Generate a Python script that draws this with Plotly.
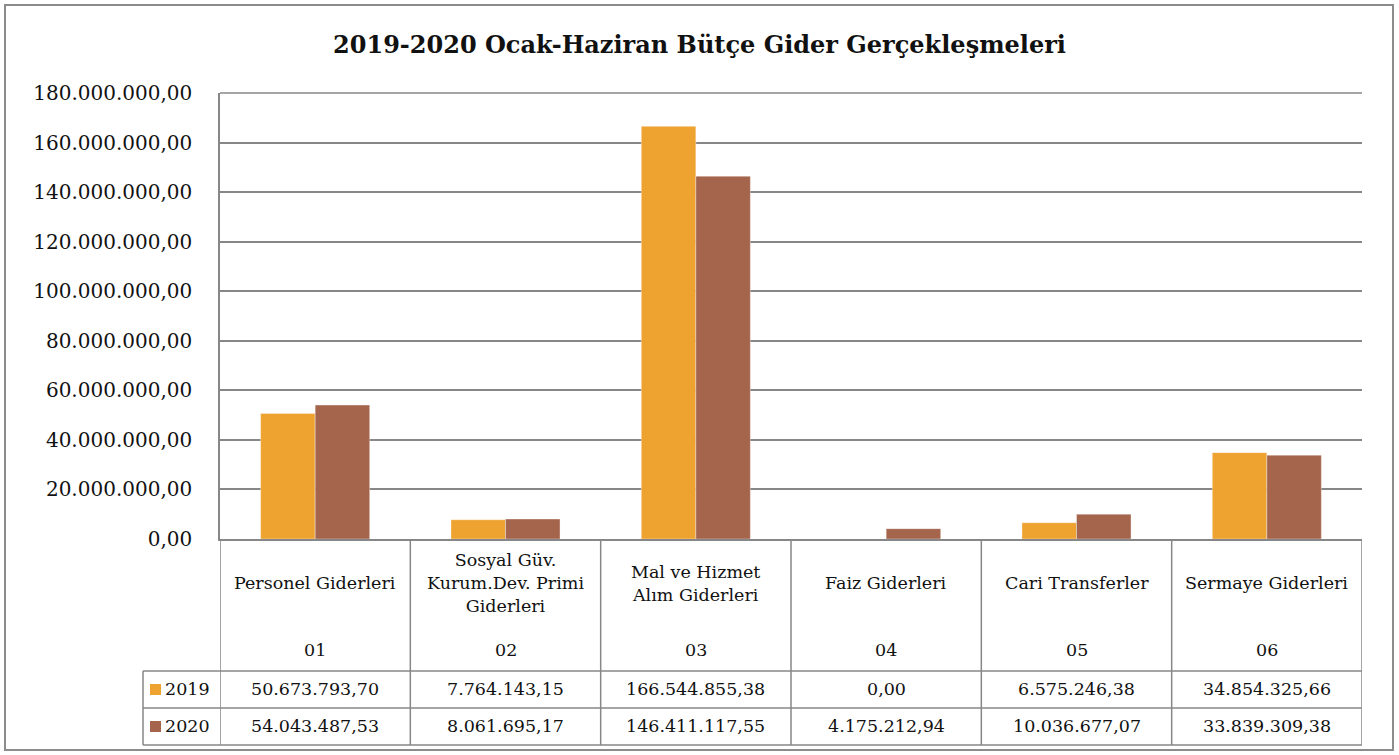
import plotly.graph_objects as go

categories = ["Personel Giderleri", "Sosyal Güv.<br>Kurum.Dev. Primi<br>Giderleri",
              "Mal ve Hizmet<br>Alım Giderleri", "Faiz Giderleri", "Cari Transferler",
              "Sermaye Giderleri"]
codes = ["01", "02", "03", "04", "05", "06"]
series_names = ["2019", "2020"]
values_2019 = [50673793.70, 7764143.15, 166544855.38, 0.00, 6575246.38, 34854325.66]
values_2020 = [54043487.53, 8061695.17, 146411117.55, 4175212.94, 10036677.07, 33839309.38]
colors = ["#EEA22F", "#A5654C"]

W, H = 1399, 755
L, R, T, B = 220, 1362, 93, 539
FONT = "DejaVu Serif"
GRID = "#878787"


def py(p):
    return (B - p) / (B - T)


def px(p):
    return (p - L) / (R - L)


def fmt(v):
    s = f"{v:,.2f}"
    return s.replace(",", "X").replace(".", ",").replace("X", ".")


idx = list(range(len(categories)))
fig = go.Figure()
for name, vals, col in zip(series_names, [values_2019, values_2020], colors):
    fig.add_trace(go.Bar(x=idx, y=vals, name=name,
                         marker=dict(color=col, line=dict(width=0.6, color="rgba(255,255,255,0.6)")),
                         showlegend=False))

shapes = []
ann = []
# outer border
shapes.append(dict(type="rect", xref="paper", yref="paper", x0=px(5), x1=px(1393), y0=py(750), y1=py(5),
                   line=dict(color="#8c8c8c", width=2)))
# table vertical lines at category boundaries
for i in range(len(categories) + 1):
    shapes.append(dict(type="line", xref="x", yref="paper", x0=i - 0.5, x1=i - 0.5, y0=py(745), y1=py(539),
                       line=dict(color=GRID, width=1.5)))
# legend column left line
shapes.append(dict(type="line", xref="paper", yref="paper", x0=px(143), x1=px(143), y0=py(745), y1=py(671),
                   line=dict(color=GRID, width=1.5)))
for yy in [671, 708, 745]:
    shapes.append(dict(type="line", xref="paper", yref="paper", x0=px(143), x1=1, y0=py(yy), y1=py(yy),
                       line=dict(color=GRID, width=1.5)))
# top gridline
shapes.append(dict(type="line", xref="paper", yref="paper", x0=0, x1=1, y0=1, y1=1,
                   line=dict(color=GRID, width=1.5)))

TS = 17.5
for i, (c, code) in enumerate(zip(categories, codes)):
    ann.append(dict(x=i, y=py(583), xref="x", yref="paper", text=c, showarrow=False,
                    font=dict(family=FONT, size=TS, color="#111"), align="center", yanchor="middle"))
    ann.append(dict(x=i, y=py(650), xref="x", yref="paper", text=code, showarrow=False,
                    font=dict(family=FONT, size=TS, color="#111"), yanchor="middle"))
    for vals, yy in [(values_2019, 689), (values_2020, 726)]:
        ann.append(dict(x=i, y=py(yy), xref="x", yref="paper", text=fmt(vals[i]), showarrow=False,
                        font=dict(family=FONT, size=TS, color="#111"), yanchor="middle"))

for name, col, yy in zip(series_names, colors, [689, 726]):
    shapes.append(dict(type="rect", xref="paper", yref="paper", x0=px(150), x1=px(161), y0=py(yy + 6), y1=py(yy - 5),
                       fillcolor=col, line=dict(width=0)))
    ann.append(dict(x=px(163), y=py(yy), xref="paper", yref="paper", text=name, showarrow=False,
                    xanchor="left", yanchor="middle", font=dict(family=FONT, size=TS, color="#111")))

fig.update_layout(
    width=W, height=H, autosize=False,
    margin=dict(l=L, r=W - R, t=T, b=H - B),
    paper_bgcolor="white", plot_bgcolor="white",
    separators=",.",
    barmode="group", bargap=0.427, bargroupgap=0,
    title=dict(text="<b>2019-2020 Ocak-Haziran Bütçe Gider Gerçekleşmeleri</b>", x=0.5, xref="container",
               y=1 - 45 / H, yref="container", yanchor="middle", xanchor="center",
               font=dict(family=FONT, size=24, color="#111")),
    xaxis=dict(range=[-0.5, len(categories) - 0.5], showticklabels=False, showgrid=False, zeroline=False,
               showline=True, linecolor=GRID, linewidth=1.5, ticks=""),
    yaxis=dict(range=[0, 180e6], dtick=20e6, tickformat=",.2f", showgrid=True, gridcolor=GRID, gridwidth=1.5,
               zeroline=False, showline=True, linecolor=GRID, linewidth=1.5, ticks="",
               ticklabelstandoff=22, tickfont=dict(family=FONT, size=20, color="#111")),
    shapes=shapes, annotations=ann,
    font=dict(family=FONT),
)

fig.write_html("out.html", config={"displayModeBar": False}, post_script="document.body.style.margin='0';")
